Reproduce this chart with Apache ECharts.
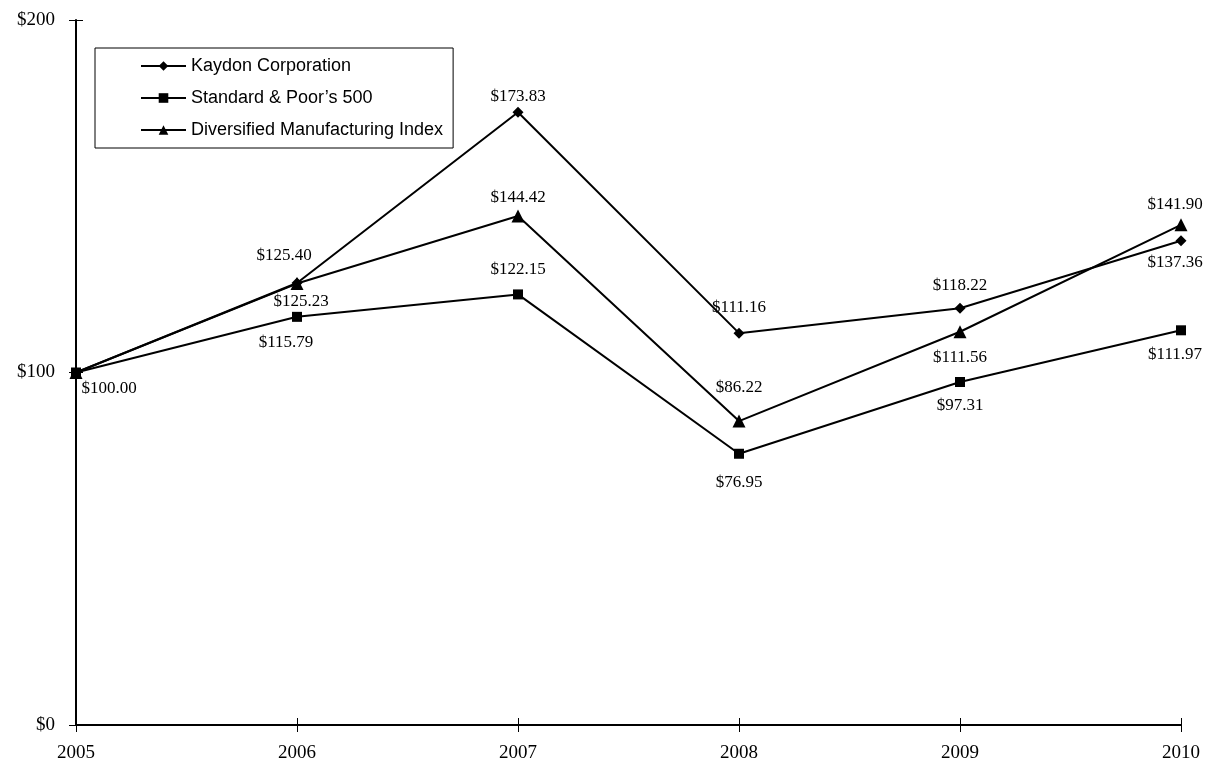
<!DOCTYPE html>
<html>
<head>
<meta charset="utf-8">
<script src="https://cdn.jsdelivr.net/npm/echarts@6/dist/echarts.min.js"></script>
<style>
  html, body { margin: 0; padding: 0; background: #fff; }
  #chart { width: 1213px; height: 771px; }
</style>
</head>
<body>
<div id="chart"></div>
<script>
const years = ['2005', '2006', '2007', '2008', '2009', '2010']
const kaydon = [100.00, 125.40, 173.83, 111.16, 118.22, 137.36]
const sp500 = [100.00, 115.79, 122.15, 76.95, 97.31, 111.97]
const dmi = [100.00, 125.23, 144.42, 86.22, 111.56, 141.90]
const yTicks = [0, 100, 200]

// label offsets (dx, dy) from each point, null = no label
const labelOffsets = {
  kaydon: [null, [-13, -27], [0, -16], [0, -26], [0, -23], [-6, 22]],
  sp500: [[33, 16], [-11, 26], [0, -25], [0, 29], [0, 24], [-6, 24]],
  dmi: [null, [4, 18], [0, -18], [0, -34], [0, 26], [-6, -20]]
}

const serif = 'Liberation Serif, Times New Roman, serif'
const sans = 'Liberation Sans, Arial, sans-serif'

function buildData (values, offsets) {
  return values.map((v, i) => {
    const off = offsets[i]
    return {
      value: v,
      label: off
        ? { show: true, position: 'inside', offset: off }
        : { show: false }
    }
  })
}

function makeSeries (name, values, offsets, symbol, size) {
  return {
    name: name,
    type: 'line',
    data: buildData(values, offsets),
    symbol: symbol,
    symbolSize: size,
    color: '#000',
    lineStyle: { color: '#000', width: 2 },
    itemStyle: { color: '#000' },
    label: {
      fontFamily: serif,
      fontSize: 17,
      color: '#000',
      formatter: (p) => '$' + p.value.toFixed(2)
    },
    animation: false
  }
}

const option = {
  backgroundColor: '#fff',
  grid: { left: 76, right: 32, top: 20, bottom: 46 },
  legend: {
    orient: 'vertical',
    left: 95,
    top: 48,
    padding: [9, 10, 9, 45],
    itemWidth: 45,
    itemHeight: 12,
    itemGap: 14,
    borderColor: '#000',
    borderWidth: 1,
    textStyle: { fontFamily: sans, fontSize: 18, color: '#000' },
    data: ['Kaydon Corporation', 'Standard & Poor\u2019s 500', 'Diversified Manufacturing Index']
  },
  xAxis: [
    {
      type: 'category',
      data: years,
      boundaryGap: false,
      axisLine: { lineStyle: { color: '#000', width: 2 } },
      axisTick: { length: 7, lineStyle: { color: '#000', width: 1 } },
      axisLabel: { fontFamily: serif, fontSize: 19, color: '#000', margin: 19 }
    },
    {
      type: 'category',
      data: years,
      boundaryGap: false,
      position: 'bottom',
      axisLine: { show: false },
      axisTick: { inside: true, length: 7, lineStyle: { color: '#000', width: 1 } },
      axisLabel: { show: false }
    }
  ],
  yAxis: [
    {
      type: 'value',
      min: 0,
      max: yTicks[yTicks.length - 1],
      interval: 100,
      splitLine: { show: false },
      axisLine: { show: true, lineStyle: { color: '#000', width: 2 } },
      axisTick: { show: true, length: 7, lineStyle: { color: '#000', width: 1 } },
      axisLabel: {
        fontFamily: serif,
        fontSize: 19,
        color: '#000',
        margin: 21,
        formatter: (v) => '$' + v
      }
    },
    {
      type: 'value',
      min: 0,
      max: yTicks[yTicks.length - 1],
      interval: 100,
      position: 'left',
      splitLine: { show: false },
      axisLine: { show: false },
      axisTick: { show: true, inside: true, length: 7, lineStyle: { color: '#000', width: 1 } },
      axisLabel: { show: false }
    }
  ],
  series: [
    makeSeries('Kaydon Corporation', kaydon, labelOffsets.kaydon, 'diamond', 11),
    makeSeries('Standard & Poor\u2019s 500', sp500, labelOffsets.sp500, 'rect', 10),
    makeSeries('Diversified Manufacturing Index', dmi, labelOffsets.dmi, 'triangle', 13)
  ]
}

const myChart = echarts.init(document.getElementById('chart'), null, { renderer: 'canvas' })
myChart.setOption(option)
</script>
</body>
</html>
